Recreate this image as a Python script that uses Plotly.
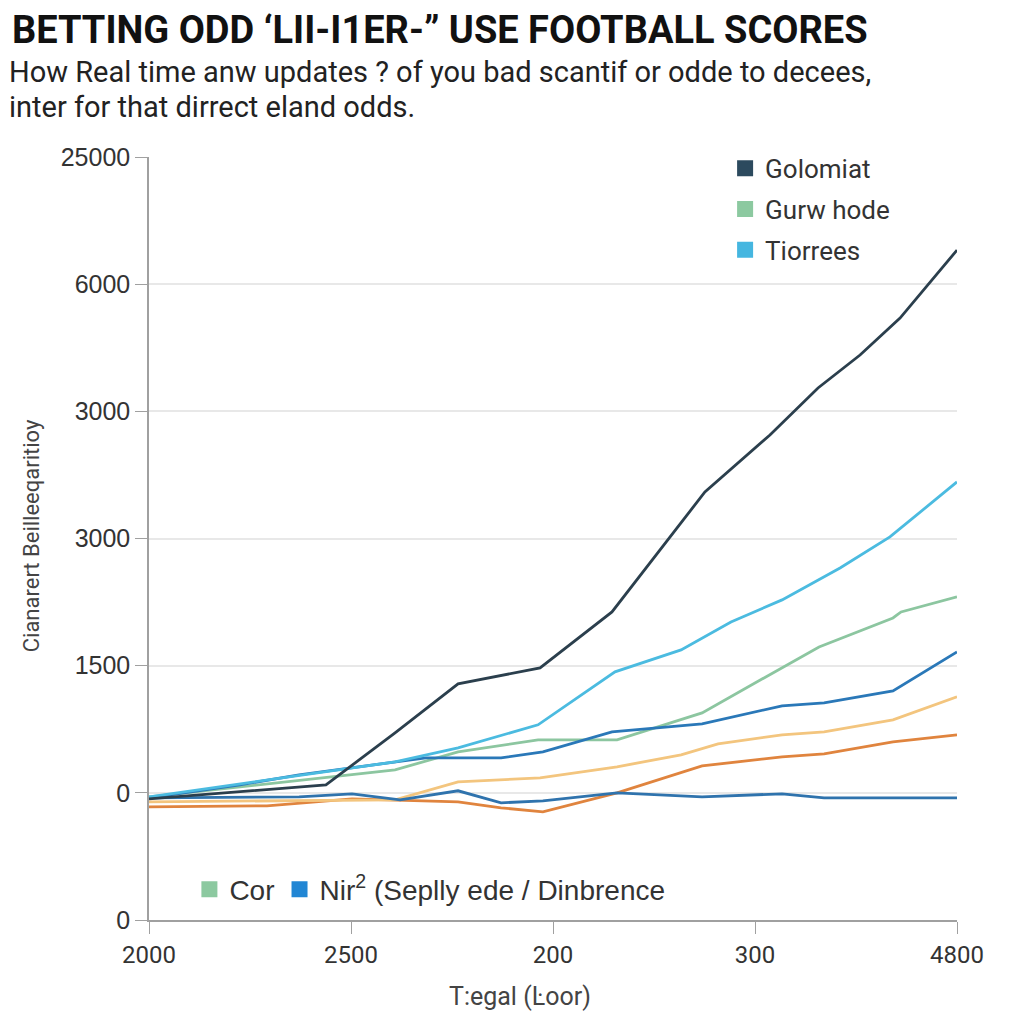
import plotly.graph_objects as go

# ---- data (x in tick-index units, y in axis units) ----
x_tick_vals = [0, 1, 2, 3, 4]
x_tick_text = ["2000", "2500", "200", "300", "4800"]
y_tick_vals = [-1500, 0, 1500, 3000, 4500, 6000, 7500]
y_tick_text = ["0", "0", "1500", "3000", "3000", "6000", "25000"]

golomiat_x = [0, 0.45, 0.876, 1.218, 1.53, 1.936, 2.292, 2.752, 3.074, 3.312, 3.52, 3.718, 4.0]
golomiat_y = [-71, 12, 94, 707, 1285, 1474, 2134, 3549, 4221, 4775, 5164, 5600, 6402]

tiorrees_x = [0, 0.55, 1.218, 1.53, 1.926, 2.307, 2.634, 2.881, 3.134, 3.421, 3.668, 4.0]
tiorrees_y = [-47, 141, 366, 531, 802, 1427, 1686, 2016, 2276, 2653, 3019, 3667]

gurw_x = [0, 0.748, 1.218, 1.53, 1.926, 2.317, 2.738, 3.317, 3.683, 3.723, 4.0]
gurw_y = [-47, 153, 271, 483, 625, 625, 943, 1721, 2063, 2134, 2311]

nir_x = [0, 0.45, 0.743, 1.218, 1.371, 1.743, 1.95, 2.292, 2.738, 3.134, 3.342, 3.683, 4.0]
nir_y = [-59, 94, 212, 365, 413, 413, 483, 719, 813, 1026, 1061, 1203, 1662]

yellow_x = [0, 1.218, 1.53, 1.936, 2.317, 2.634, 2.817, 3.134, 3.342, 3.683, 4.0]
yellow_y = [-106, -83, 130, 177, 307, 448, 578, 684, 719, 861, 1132]

orange_x = [0, 0.584, 1.005, 1.218, 1.53, 1.743, 1.95, 2.317, 2.738, 3.134, 3.342, 3.683, 4.0]
orange_y = [-165, -153, -71, -83, -106, -177, -224, 0, 318, 424, 460, 601, 684]

flat_x = [0, 0.743, 1.005, 1.243, 1.53, 1.743, 1.95, 2.317, 2.738, 3.134, 3.342, 4.0]
flat_y = [-59, -47, -12, -83, 24, -118, -94, 0, -47, -12, -59, -59]

series = [
    ("Orange", orange_x, orange_y, "#e0843e"),
    ("Yellow", yellow_x, yellow_y, "#f3c57e"),
    ("Flat", flat_x, flat_y, "#2f73ad"),
    ("Gurw hode", gurw_x, gurw_y, "#8cc6a0"),
    ("Nir", nir_x, nir_y, "#2a78b8"),
    ("Tiorrees", tiorrees_x, tiorrees_y, "#4bbbe0"),
    ("Golomiat", golomiat_x, golomiat_y, "#2b3f4d"),
]

top_legend_names = ["Golomiat", "Gurw hode", "Tiorrees"]
top_legend_colors = ["#2c4a5e", "#8cc9a0", "#45b6e0"]
bottom_legend_names = ["Cor", "Nir<sup>2</sup> (Seplly ede / Dinbrence"]
bottom_legend_colors = ["#8cc9a0", "#2186d4"]

fig = go.Figure()
for name, xs, ys, col in series:
    fig.add_trace(go.Scatter(x=xs, y=ys, mode="lines", name=name,
                             line=dict(color=col, width=2.8), showlegend=False))

for i, (n, c) in enumerate(zip(top_legend_names, top_legend_colors)):
    fig.add_trace(go.Scatter(x=[None], y=[None], mode="markers", name=n,
                             marker=dict(symbol="square", size=20, color=c),
                             legend="legend", legendgroup="g%d" % i))
for n, c in zip(bottom_legend_names, bottom_legend_colors):
    fig.add_trace(go.Scatter(x=[None], y=[None], mode="markers", name=n,
                             marker=dict(symbol="square", size=16, color=c),
                             legend="legend2"))

fig.update_layout(
    width=1024, height=1024,
    margin=dict(l=141, r=75, t=149, b=112),
    paper_bgcolor="white", plot_bgcolor="white",
    font=dict(family="Liberation Sans, Arial, sans-serif", color="#333333"),
    legend=dict(x=0.713, y=1.016, xanchor="left", yanchor="top",
                font=dict(size=26, family="Roboto, sans-serif", color="#333"),
                tracegroupgap=4, bgcolor="rgba(0,0,0,0)", itemwidth=30),
    legend2=dict(x=0.05, y=0.04, xanchor="left", yanchor="middle",
                 orientation="h",
                 font=dict(size=28, family="Liberation Sans, Arial, sans-serif", color="#333"),
                 bgcolor="rgba(0,0,0,0)", itemwidth=30),
    xaxis=dict(range=[0, 4], tickvals=x_tick_vals, ticktext=x_tick_text,
               showgrid=False, zeroline=False, showline=True, linecolor="#a0a0a0",
               linewidth=1.5, ticks="outside", ticklen=12, tickcolor="#a0a0a0",
               tickfont=dict(size=24, family="Roboto, sans-serif", color="#333")),
    yaxis=dict(range=[-1500, 7500], tickvals=y_tick_vals, ticktext=y_tick_text,
               showgrid=True, gridcolor="#e8e8e8", gridwidth=1.5, zeroline=False,
               showline=True, linecolor="#a0a0a0", linewidth=1.5,
               ticks="outside", ticklen=12, tickcolor="#a0a0a0",
               tickfont=dict(size=25, family="Liberation Sans, Arial, sans-serif", color="#333")),
)

fig.add_annotation(text="<b>BETTING ODD ‘LII-I1ER-” USE FOOTBALL SCORES</b>",
                   xref="paper", yref="paper", x=-0.172, y=1.166,
                   xanchor="left", yanchor="middle", showarrow=False,
                   font=dict(size=38, family="Roboto, sans-serif", color="#111"))
fig.add_annotation(text="How Real time anw updates ? of you bad scantif or odde to decees,",
                   xref="paper", yref="paper", x=-0.176, y=1.112,
                   xanchor="left", yanchor="middle", showarrow=False,
                   font=dict(size=29, family="Roboto, sans-serif", color="#222"))
fig.add_annotation(text="inter for that dirrect eland odds.",
                   xref="paper", yref="paper", x=-0.176, y=1.066,
                   xanchor="left", yanchor="middle", showarrow=False,
                   font=dict(size=29, family="Roboto, sans-serif", color="#222"))
fig.add_annotation(text="Cianarert Beilleeqaritioy",
                   xref="paper", yref="paper", x=-0.145, y=0.504,
                   xanchor="center", yanchor="middle", showarrow=False, textangle=-90,
                   font=dict(size=22, family="Roboto, sans-serif", color="#444"))
fig.add_annotation(text="T:egal (Ŀoor)",
                   xref="paper", yref="paper", x=0.459, y=-0.10,
                   xanchor="center", yanchor="middle", showarrow=False,
                   font=dict(size=25, family="Roboto, sans-serif", color="#444"))

fig.write_html("out.html")
